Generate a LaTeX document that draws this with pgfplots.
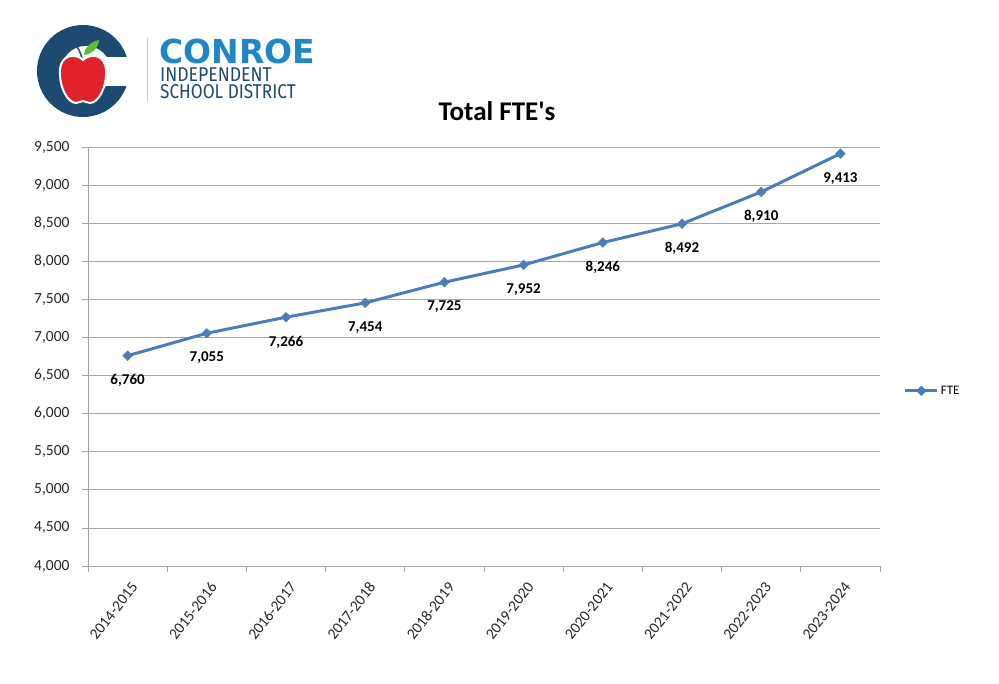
\documentclass[border=0pt]{standalone}
\usepackage{fontspec}
\setmainfont{Carlito}
\newfontfamily\titlefont{Carlito}
\newfontfamily\logofont{DejaVu Sans}
\newfontfamily\logosub{Fira Sans}
\usepackage{pgfplots}
\pgfplotsset{compat=1.18}

\definecolor{fteblue}{HTML}{4A7EBB}
\definecolor{navy}{HTML}{1C4A70}
\definecolor{conroeblue}{HTML}{1F86C8}
\definecolor{applered}{HTML}{E2222A}
\definecolor{leafgreen}{HTML}{5DBB2F}
\definecolor{gridgray}{HTML}{A6A6A6}

\begin{document}
\begin{tikzpicture}
\useasboundingbox (0,0) rectangle (999pt,683pt);

% logo, drawn in image coordinates (y down)
\begin{scope}[shift={(0pt,683pt)}, x=1pt, y=-1pt]
  \fill[navy] (83,71) circle (46);
  \fill[white] (86,71) circle (25);
  \fill[white] (86,57) rectangle (132,86);
  \draw[navy, line width=1.5pt] (82,60) .. controls (81,52) and (78,47) .. (73,43);
  \fill[leafgreen] (84,55) .. controls (85,46) and (91,42) .. (99,40)
     .. controls (98,49) and (92,54) .. (84,55) -- cycle;
  \filldraw[fill=applered, draw=white, line width=2pt]
     (83,60) .. controls (76,53) and (61,54) .. (60,70)
     .. controls (59,88) and (68,103) .. (76,103)
     .. controls (79,103) and (81,101) .. (83,101)
     .. controls (85,101) and (87,103) .. (90,103)
     .. controls (98,103) and (107,88) .. (106,70)
     .. controls (105,54) and (90,53) .. (83,60) -- cycle;
  \draw[gray!40, line width=0.8pt] (147,38) -- (147,102);
  \node[anchor=base west, inner sep=0, text=conroeblue]
     at (159,64) {\logofont\bfseries\fontsize{33}{33}\selectfont CONROE};
  \node[anchor=base west, inner sep=0, text=navy]
     at (160,82) {\scalebox{0.88}[1]{\logosub\fontsize{20}{20}\selectfont INDEPENDENT}};
  \node[anchor=base west, inner sep=0, text=navy]
     at (160,99) {\scalebox{0.86}[1]{\logosub\fontsize{20}{20}\selectfont SCHOOL DISTRICT}};
  \node[font=\titlefont\bfseries\fontsize{27}{27}\selectfont] at (497,111) {Total FTE's};
\end{scope}

\begin{axis}[
    at={(88pt,117pt)}, anchor=south west,
    scale only axis, width=792pt, height=419pt,
    xmin=-0.5, xmax=9.5,
    ymin=4000, ymax=9500,
    ytick={4000,4500,...,9500},
    xtick={0,...,9},
    xticklabels={2014-2015,2015-2016,2016-2017,2017-2018,2018-2019,2019-2020,2020-2021,2021-2022,2022-2023,2023-2024},
    minor xtick={-0.5,0.5,...,9.5},
    major x tick style={draw=none},
    minor x tick style={draw=gridgray, line width=0.8pt},
    y tick style={draw=gridgray, line width=0.8pt},
    major tick length=6pt, minor tick length=6pt,
    tick align=outside,
    axis lines*=left,
    axis line style={draw=gridgray, line width=0.8pt, -},
    ymajorgrids,
    major grid style={draw=gridgray, line width=0.8pt},
    scaled y ticks=false,
    /pgf/number format/assume math mode=true,
    /pgf/number format/1000 sep={,},
    tick label style={font=\fontsize{15.5}{15.5}\selectfont, text=black!85},
    yticklabel style={xshift=-9pt},
    xticklabel style={rotate=52, anchor=east, font=\fontsize{15.5}{15.5}\selectfont, yshift=-13pt, xshift=-2pt},
    nodes near coords,
    every node near coord/.append style={font=\bfseries\fontsize{15}{15}\selectfont, anchor=north, yshift=-15pt, text=black},
    legend style={at={(1.026,0.418)}, anchor=west, draw=none, fill=none, font=\fontsize{13}{13}\selectfont},
    legend image code/.code={\draw[#1, mark repeat=2, mark phase=2] plot coordinates {(0pt,0pt) (16pt,0pt) (32pt,0pt)};},
]
\addplot[fteblue, line width=3pt, mark=square*, mark size=3.4pt, mark options={fill=fteblue, line width=0.5pt, rotate=45}]
  coordinates {(0,6760) (1,7055) (2,7266) (3,7454) (4,7725) (5,7952) (6,8246) (7,8492) (8,8910) (9,9413)};
\addlegendentry{FTE}
\end{axis}
\end{tikzpicture}
\end{document}
